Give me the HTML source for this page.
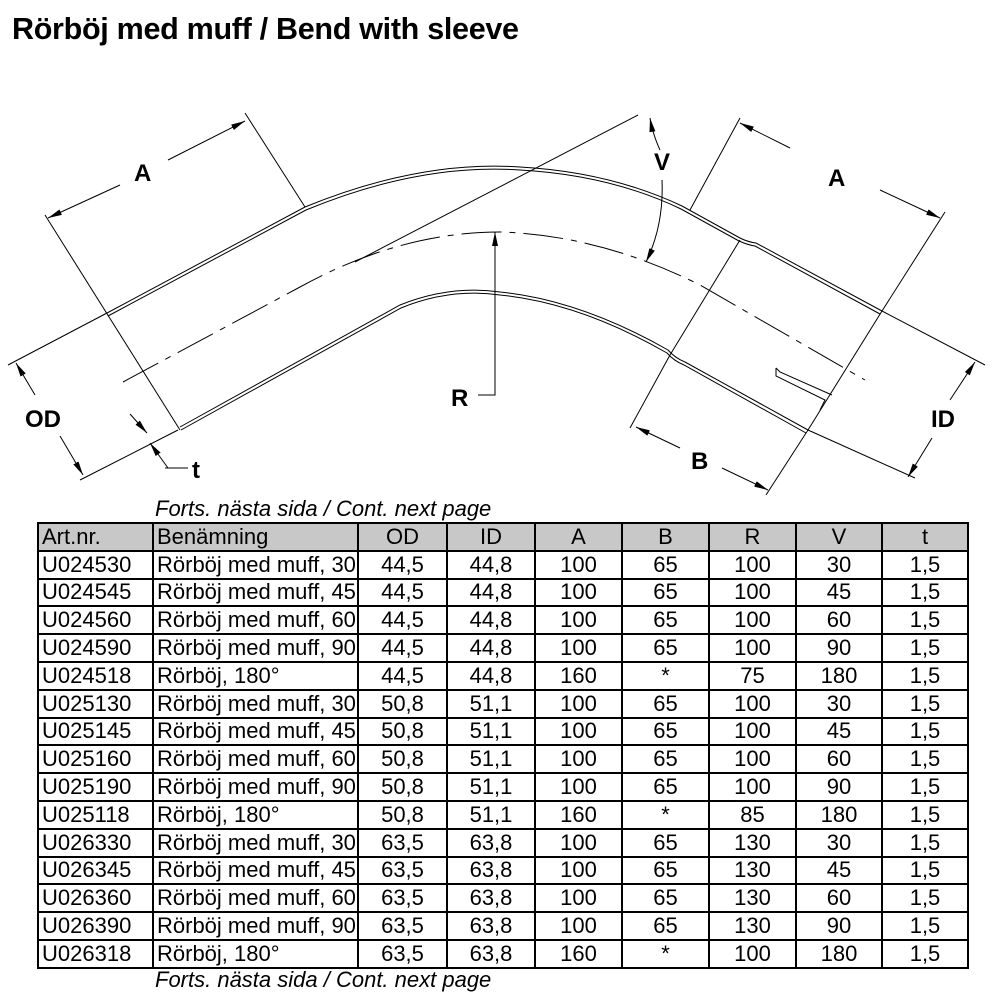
<!DOCTYPE html>
<html><head><style>
body{margin:0;background:#fff;width:1000px;height:1000px;overflow:hidden;font-family:"Liberation Sans",sans-serif;}
h1{position:absolute;left:12px;top:12px;margin:0;font-size:30.5px;font-weight:bold;letter-spacing:-0.3px}
.note{position:absolute;left:155px;font-size:22px;font-style:italic;}
table{position:absolute;left:37px;top:522px;border-collapse:collapse;font-size:22px;table-layout:fixed;width:930px}
td{border:2px solid #000;height:25.8px;padding:0 3px;line-height:24px;text-align:center;white-space:nowrap;overflow:hidden}
td.l{text-align:left}
tr.h td{background:#c8c8c8}
</style></head><body>
<h1>Rörböj med muff / Bend with sleeve</h1>
<svg width="1000" height="500" style="position:absolute;left:0;top:0" font-family="Liberation Sans" font-weight="bold" font-size="24">
<defs><marker id="a" markerWidth="14" markerHeight="6" refX="14" refY="3" orient="auto" markerUnits="userSpaceOnUse"><path d="M0,0L14,3L0,6z"/></marker></defs>
<g fill="none" stroke="#000" stroke-width="1">
<path d="M107,313 L305,207 Q420,160 520,167 Q610,172 682,206 L740,238 Q748,242 756,243 L882,311"/>
<path d="M108,316 L306,210 Q420,163 520,170 Q610,175 681,209 L739,241 Q748,245 755,246 L880,314"/>
<path d="M180,427 L400,305 Q450,285 500,292 Q580,300 668,350 Q675,358 685,362 L808,430"/>
<path d="M181,430 L401,308 Q450,288 500,295 Q580,303 667,353 Q674,361 684,365 L806,433"/>
<path d="M123,382 L300,287 Q400,232 500,232 Q600,235 700,285 L865,380" stroke-dasharray="40,8,6,8"/>
<line x1="45" y1="215" x2="180" y2="430"/>
<line x1="740" y1="240" x2="670" y2="355"/>
<line x1="882" y1="311" x2="808" y2="430"/>
<path d="M776,368 L780,372 L832,395 M776,368 L776,376 L825,400 L820,410"/>
<line x1="355" y1="262" x2="638" y2="115"/>
<line x1="245" y1="113" x2="305" y2="207"/>
<line x1="120" y1="185" x2="48" y2="218" marker-end="url(#a)"/>
<line x1="168" y1="160" x2="245" y2="121" marker-end="url(#a)"/>
<line x1="740" y1="118" x2="690" y2="210"/>
<line x1="945" y1="212" x2="882" y2="311"/>
<line x1="790" y1="148" x2="740" y2="123" marker-end="url(#a)"/>
<line x1="880" y1="190" x2="940" y2="218" marker-end="url(#a)"/>
<path d="M660,150 Q653,135 650,118" marker-end="url(#a)"/>
<path d="M662,180 Q664,225 646,262" marker-end="url(#a)"/>
<polyline points="478,395 495,395 495,232" marker-end="url(#a)"/>
<line x1="107" y1="313" x2="8" y2="365"/>
<line x1="178" y1="430" x2="80" y2="480"/>
<line x1="35" y1="395" x2="16" y2="363" marker-end="url(#a)"/>
<line x1="60" y1="436" x2="83" y2="475" marker-end="url(#a)"/>
<line x1="130" y1="414" x2="147" y2="433" marker-end="url(#a)"/>
<polyline points="168,468 150,443" marker-end="url(#a)"/>
<polyline points="165,468 188,468"/>
<line x1="882" y1="311" x2="985" y2="365"/>
<line x1="808" y1="430" x2="915" y2="478"/>
<line x1="950" y1="400" x2="975" y2="362" marker-end="url(#a)"/>
<line x1="932" y1="438" x2="908" y2="477" marker-end="url(#a)"/>
<line x1="670" y1="355" x2="630" y2="428"/>
<line x1="808" y1="430" x2="766" y2="495"/>
<line x1="680" y1="448" x2="636" y2="427" marker-end="url(#a)"/>
<line x1="722" y1="468" x2="768" y2="490" marker-end="url(#a)"/>
</g>
<text x="134" y="181">A</text>
<text x="828" y="186">A</text>
<text x="654" y="170">V</text>
<text x="451" y="406">R</text>
<text x="25" y="427">OD</text>
<text x="192" y="478">t</text>
<text x="691" y="469">B</text>
<text x="931" y="427">ID</text>
</svg>
<div class="note" style="top:496px">Forts. nästa sida / Cont. next page</div>
<table>
<colgroup><col style="width:115px"><col style="width:205px"><col style="width:89px"><col style="width:88px"><col style="width:87px"><col style="width:87px"><col style="width:87px"><col style="width:86px"><col style="width:86px"></colgroup>
<tr class="h"><td class="l">Art.nr.</td><td class="l">Benämning</td><td>OD</td><td>ID</td><td>A</td><td>B</td><td>R</td><td>V</td><td>t</td></tr>
<tr><td class="l">U024530</td><td class="l">Rörböj med muff, 30</td><td>44,5</td><td>44,8</td><td>100</td><td>65</td><td>100</td><td>30</td><td>1,5</td></tr>
<tr><td class="l">U024545</td><td class="l">Rörböj med muff, 45</td><td>44,5</td><td>44,8</td><td>100</td><td>65</td><td>100</td><td>45</td><td>1,5</td></tr>
<tr><td class="l">U024560</td><td class="l">Rörböj med muff, 60</td><td>44,5</td><td>44,8</td><td>100</td><td>65</td><td>100</td><td>60</td><td>1,5</td></tr>
<tr><td class="l">U024590</td><td class="l">Rörböj med muff, 90</td><td>44,5</td><td>44,8</td><td>100</td><td>65</td><td>100</td><td>90</td><td>1,5</td></tr>
<tr><td class="l">U024518</td><td class="l">Rörböj, 180°</td><td>44,5</td><td>44,8</td><td>160</td><td>*</td><td>75</td><td>180</td><td>1,5</td></tr>
<tr><td class="l">U025130</td><td class="l">Rörböj med muff, 30</td><td>50,8</td><td>51,1</td><td>100</td><td>65</td><td>100</td><td>30</td><td>1,5</td></tr>
<tr><td class="l">U025145</td><td class="l">Rörböj med muff, 45</td><td>50,8</td><td>51,1</td><td>100</td><td>65</td><td>100</td><td>45</td><td>1,5</td></tr>
<tr><td class="l">U025160</td><td class="l">Rörböj med muff, 60</td><td>50,8</td><td>51,1</td><td>100</td><td>65</td><td>100</td><td>60</td><td>1,5</td></tr>
<tr><td class="l">U025190</td><td class="l">Rörböj med muff, 90</td><td>50,8</td><td>51,1</td><td>100</td><td>65</td><td>100</td><td>90</td><td>1,5</td></tr>
<tr><td class="l">U025118</td><td class="l">Rörböj, 180°</td><td>50,8</td><td>51,1</td><td>160</td><td>*</td><td>85</td><td>180</td><td>1,5</td></tr>
<tr><td class="l">U026330</td><td class="l">Rörböj med muff, 30</td><td>63,5</td><td>63,8</td><td>100</td><td>65</td><td>130</td><td>30</td><td>1,5</td></tr>
<tr><td class="l">U026345</td><td class="l">Rörböj med muff, 45</td><td>63,5</td><td>63,8</td><td>100</td><td>65</td><td>130</td><td>45</td><td>1,5</td></tr>
<tr><td class="l">U026360</td><td class="l">Rörböj med muff, 60</td><td>63,5</td><td>63,8</td><td>100</td><td>65</td><td>130</td><td>60</td><td>1,5</td></tr>
<tr><td class="l">U026390</td><td class="l">Rörböj med muff, 90</td><td>63,5</td><td>63,8</td><td>100</td><td>65</td><td>130</td><td>90</td><td>1,5</td></tr>
<tr><td class="l">U026318</td><td class="l">Rörböj, 180°</td><td>63,5</td><td>63,8</td><td>160</td><td>*</td><td>100</td><td>180</td><td>1,5</td></tr>
</table>
<div class="note" style="top:967px">Forts. nästa sida / Cont. next page</div>
</body></html>
